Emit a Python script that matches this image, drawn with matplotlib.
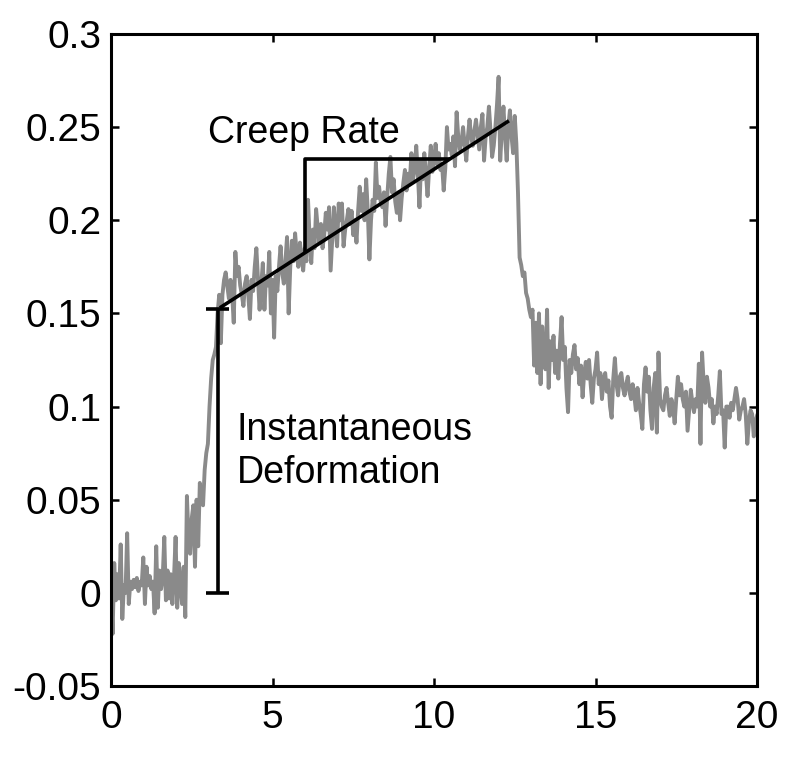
# Creep curve: instantaneous deformation + creep rate, then recovery
import numpy as np
import matplotlib.pyplot as plt

plt.rcParams['font.family'] = ['Liberation Sans', 'DejaVu Sans']

# time samples (step 0.05 s) and deformation, one row per second
tempo = np.round(np.arange(0, 20.0001, 0.05), 2)
deform = [
    0.002, -0.022, 0.016, -0.004, 0.010, -0.003, 0.026, -0.014, 0.004, 0.000,
    0.032, -0.006, 0.006, 0.002, 0.007, 0.003, 0.008, 0.001, 0.006, 0.004,
    0.019, -0.006, 0.014, 0.004, 0.009, 0.002, 0.006, -0.011, 0.025, -0.008,
    0.012, 0.002, 0.008, 0.030, -0.004, 0.012, -0.003, 0.010, -0.006, 0.008,
    0.030, -0.008, 0.016, 0.004, -0.006, 0.014, -0.013, 0.052, 0.030, 0.021,
    0.040, 0.047, 0.014, 0.050, 0.025, 0.059, 0.052, 0.047, 0.066, 0.075,
    0.080, 0.100, 0.115, 0.125, 0.128, 0.132, 0.150, 0.160, 0.134, 0.160,
    0.168, 0.172, 0.165, 0.158, 0.168, 0.160, 0.145, 0.183, 0.170, 0.175,
    0.165, 0.160, 0.154, 0.166, 0.170, 0.160, 0.147, 0.168, 0.162, 0.175,
    0.185, 0.168, 0.152, 0.165, 0.177, 0.152, 0.170, 0.165, 0.183, 0.150,
    0.168, 0.137, 0.170, 0.162, 0.175, 0.186, 0.172, 0.166, 0.178, 0.191,
    0.150, 0.175, 0.189, 0.178, 0.193, 0.182, 0.175, 0.188, 0.180, 0.173,
    0.185, 0.178, 0.211, 0.190, 0.177, 0.195, 0.185, 0.206, 0.196, 0.188,
    0.198, 0.185, 0.192, 0.204, 0.195, 0.207, 0.173, 0.190, 0.207, 0.195,
    0.186, 0.209, 0.200, 0.209, 0.186, 0.195, 0.200, 0.206, 0.198, 0.205,
    0.192, 0.200, 0.188, 0.205, 0.218, 0.205, 0.214, 0.200, 0.222, 0.205,
    0.179, 0.200, 0.211, 0.205, 0.231, 0.212, 0.218, 0.210, 0.207, 0.215,
    0.197, 0.212, 0.225, 0.234, 0.215, 0.222, 0.210, 0.204, 0.215, 0.200,
    0.212, 0.220, 0.227, 0.216, 0.225, 0.220, 0.236, 0.222, 0.227, 0.240,
    0.225, 0.207, 0.232, 0.222, 0.236, 0.225, 0.213, 0.228, 0.240, 0.226,
    0.232, 0.241, 0.230, 0.236, 0.227, 0.230, 0.216, 0.228, 0.250, 0.238,
    0.241, 0.235, 0.245, 0.229, 0.258, 0.245, 0.238, 0.242, 0.250, 0.240,
    0.232, 0.245, 0.254, 0.245, 0.240, 0.248, 0.254, 0.246, 0.238, 0.250,
    0.257, 0.232, 0.245, 0.250, 0.261, 0.248, 0.234, 0.240, 0.250, 0.262,
    0.277, 0.232, 0.248, 0.261, 0.245, 0.232, 0.250, 0.259, 0.245, 0.236,
    0.256, 0.241, 0.215, 0.180, 0.176, 0.170, 0.172, 0.161, 0.158, 0.152,
    0.148, 0.152, 0.122, 0.145, 0.118, 0.150, 0.112, 0.143, 0.128, 0.120,
    0.152, 0.110, 0.135, 0.125, 0.138, 0.118, 0.130, 0.115, 0.134, 0.148,
    0.125, 0.132, 0.110, 0.097, 0.125, 0.118, 0.128, 0.133, 0.120, 0.126,
    0.112, 0.122, 0.105, 0.118, 0.124, 0.115, 0.125, 0.112, 0.102, 0.115,
    0.120, 0.129, 0.112, 0.118, 0.104, 0.115, 0.118, 0.108, 0.114, 0.100,
    0.094, 0.115, 0.126, 0.112, 0.106, 0.116, 0.118, 0.110, 0.106, 0.112,
    0.116, 0.108, 0.104, 0.112, 0.106, 0.098, 0.110, 0.102, 0.096, 0.088,
    0.112, 0.121, 0.108, 0.116, 0.098, 0.088, 0.110, 0.118, 0.086, 0.129,
    0.104, 0.100, 0.098, 0.106, 0.110, 0.102, 0.095, 0.104, 0.100, 0.091,
    0.104, 0.116, 0.106, 0.112, 0.104, 0.100, 0.108, 0.087, 0.098, 0.109,
    0.102, 0.097, 0.104, 0.100, 0.123, 0.080, 0.129, 0.112, 0.102, 0.116,
    0.110, 0.100, 0.104, 0.091, 0.100, 0.096, 0.106, 0.119, 0.096, 0.098,
    0.078, 0.100, 0.100, 0.094, 0.102, 0.098, 0.104, 0.110, 0.104, 0.093,
    0.098, 0.100, 0.104, 0.096, 0.080, 0.092, 0.098, 0.096, 0.084, 0.092,
    0.095,
]

# annotation geometry (data units)
barra_x = 3.30
barra_lim = [0.0, 0.1525]
cap_meia = 0.35
reta_x = [3.37, 12.32]
reta_y = [0.153, 0.2534]
tri_x = 6.0
tri_y = 0.2328

fig = plt.figure(figsize=(8, 7.72), dpi=100)
ax = fig.add_axes([0.13875, 0.1114, 0.8075, 0.8446])

ax.plot(tempo, deform, color='#8a8a8a', lw=2.8, zorder=2)

preto = dict(color='black', lw=2.6, zorder=3, solid_capstyle='butt')
# instantaneous deformation bar
ax.plot([barra_x, barra_x], barra_lim, **preto)
for yb in barra_lim:
    ax.plot([barra_x - cap_meia, barra_x + cap_meia], [yb, yb], **preto)

# creep rate fit line and slope triangle
inclin = (reta_y[1] - reta_y[0]) / (reta_x[1] - reta_x[0])
ax.plot(reta_x, reta_y, **preto)
y_tri_base = reta_y[0] + inclin * (tri_x - reta_x[0])
x_tri_fim = reta_x[0] + (tri_y - reta_y[0]) / inclin
ax.plot([tri_x, tri_x, x_tri_fim], [y_tri_base, tri_y, tri_y], **preto)

ax.text(3.0, 0.247, 'Creep Rate', fontsize=27, va='center', ha='left')
ax.text(3.9, 0.0875, 'Instantaneous', fontsize=27, va='center', ha='left')
ax.text(3.9, 0.0645, 'Deformation', fontsize=27, va='center', ha='left')

ax.set_xlim(0, 20)
ax.set_ylim(-0.05, 0.3)
ax.set_xticks([0, 5, 10, 15, 20])
ax.set_yticks([-0.05, 0, 0.05, 0.1, 0.15, 0.2, 0.25, 0.3])
ax.set_yticklabels(['-0.05', '0', '0.05', '0.1', '0.15', '0.2', '0.25', '0.3'])
ax.tick_params(direction='in', length=6, width=1.8, labelsize=28,
               top=True, right=True)
ax.tick_params(axis='y', pad=7)
ax.tick_params(axis='x', pad=10)
for s in ax.spines.values():
    s.set_linewidth(2.2)

fig.savefig('out.png', dpi=100)
